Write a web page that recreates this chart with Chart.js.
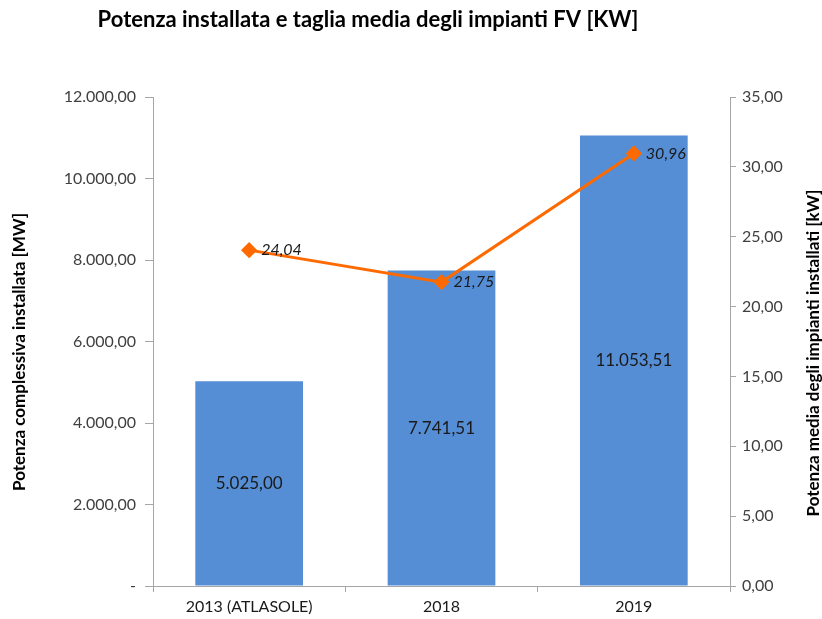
<!DOCTYPE html>
<html>
<head>
<meta charset="utf-8">
<script src="https://cdn.jsdelivr.net/npm/chart.js@4/dist/chart.umd.min.js"></script>
<style>
    html, body { margin: 0; padding: 0; background: #fff; }
    #wrap { width: 822px; height: 619px; }
</style>
</head>
<body>
<div id="wrap"><canvas id="chart" width="822" height="619"></canvas></div>
<script>
const categories = ["2013 (ATLASOLE)", "2018", "2019"];
const potenzaMW = [5025.0, 7741.51, 11053.51];
const tagliaMediaKW = [24.04, 21.75, 30.96];
const leftTicks = [0, 2000, 4000, 6000, 8000, 10000, 12000];
const rightTicks = [0, 5, 10, 15, 20, 25, 30, 35];

const FONT = "Lato, 'Open Sans', sans-serif";
const AXIS_GREY = "#a6a6a6";
const LABEL_GREY = "#404040";

// 12345.6 -> "12.345,60"
const formatIt = (v) => {
    const [intPart, dec] = Math.abs(v).toFixed(2).split(".");
    const grouped = intPart.replace(/\B(?=(\d{3})+(?!\d))/g, ".");
    return (v < 0 ? "-" : "") + grouped + "," + dec;
};

const drawVertical = (ctx, text, x, y) => {
    ctx.save();
    ctx.translate(x, y);
    ctx.rotate(-Math.PI / 2);
    ctx.fillText(text, 0, 0);
    ctx.restore();
};

const labelsPlugin = {
    id: "labels",
    afterDatasetsDraw(chart) {
        const ctx = chart.ctx;
        const area = chart.chartArea;
        ctx.save();
        ctx.fillStyle = "#1a1a1a";

        // bar values in the middle of each bar
        ctx.font = "17px " + FONT;
        ctx.textAlign = "center";
        ctx.textBaseline = "middle";
        chart.getDatasetMeta(1).data.forEach((bar, i) => {
            const mid = (bar.y + bar.base) / 2;
            ctx.fillText(formatIt(potenzaMW[i]), bar.x, mid);
        });

        // line values to the right of each point
        ctx.font = "italic 16px " + FONT;
        ctx.textAlign = "left";
        chart.getDatasetMeta(0).data.forEach((pt, i) => {
            ctx.fillText(formatIt(tagliaMediaKW[i]), pt.x + 12, pt.y);
        });

        // title
        ctx.fillStyle = "#000";
        ctx.font = "bold 22px " + FONT;
        ctx.textAlign = "center";
        ctx.fillText("Potenza installata e taglia media degli impianti FV [KW]", 368, 20);

        // axis titles, both reading bottom to top
        ctx.font = "bold 17px " + FONT;
        drawVertical(ctx, "Potenza complessiva installata [MW]", 20, 352);
        drawVertical(ctx, "Potenza media degli impianti installati [kW]", 814, 353);
        ctx.restore();
    },
};

new Chart(document.getElementById("chart").getContext("2d"), {
    data: {
        labels: categories,
        datasets: [
            {
                type: "line",
                label: "Taglia media [kW]",
                data: tagliaMediaKW,
                yAxisID: "y1",
                borderColor: "#ff6a00",
                backgroundColor: "#ff6a00",
                borderWidth: 3,
                pointStyle: "rectRot",
                pointRadius: 6,
                pointHoverRadius: 6,
                tension: 0,
                order: 0,
            },
            {
                type: "bar",
                label: "Potenza installata [MW]",
                data: potenzaMW,
                yAxisID: "y",
                backgroundColor: "#558ed5",
                categoryPercentage: 0.56,
                barPercentage: 1,
                order: 1,
            },
        ],
    },
    options: {
        responsive: false,
        animation: false,
        devicePixelRatio: 1,
        layout: { padding: { top: 97, left: 0, right: 0, bottom: 0 } },
        plugins: {
            legend: { display: false },
            title: { display: false },
            tooltip: { enabled: false },
        },
        scales: {
            x: {
                offset: true,
                afterFit: (s) => { s.height = 33; },
                grid: {
                    offset: true,
                    drawOnChartArea: false,
                    drawTicks: true,
                    tickLength: 6,
                    color: AXIS_GREY,
                },
                border: { color: AXIS_GREY, width: 1 },
                ticks: {
                    color: "#1a1a1a",
                    font: { family: FONT, size: 16 },
                    padding: 5,
                    maxRotation: 0,
                },
            },
            y: {
                position: "left",
                min: 0,
                max: 12000,
                afterFit: (s) => { s.width = 153; },
                afterBuildTicks: (s) => { s.ticks = leftTicks.map((v) => ({ value: v })); },
                grid: {
                    drawOnChartArea: false,
                    drawTicks: true,
                    tickLength: 8,
                    color: AXIS_GREY,
                },
                border: { color: AXIS_GREY, width: 1 },
                ticks: {
                    color: LABEL_GREY,
                    font: { family: FONT, size: 16 },
                    padding: 9,
                    callback: (v) => (v === 0 ? "-" : formatIt(v)),
                },
            },
            y1: {
                position: "right",
                min: 0,
                max: 35,
                afterFit: (s) => { s.width = 92; },
                afterBuildTicks: (s) => { s.ticks = rightTicks.map((v) => ({ value: v })); },
                grid: {
                    drawOnChartArea: false,
                    drawTicks: true,
                    tickLength: 6,
                    color: AXIS_GREY,
                },
                border: { color: AXIS_GREY, width: 1 },
                ticks: {
                    color: LABEL_GREY,
                    font: { family: FONT, size: 16 },
                    padding: 6,
                    callback: (v) => formatIt(v),
                },
            },
        },
    },
    plugins: [labelsPlugin],
});
</script>
</body>
</html>
